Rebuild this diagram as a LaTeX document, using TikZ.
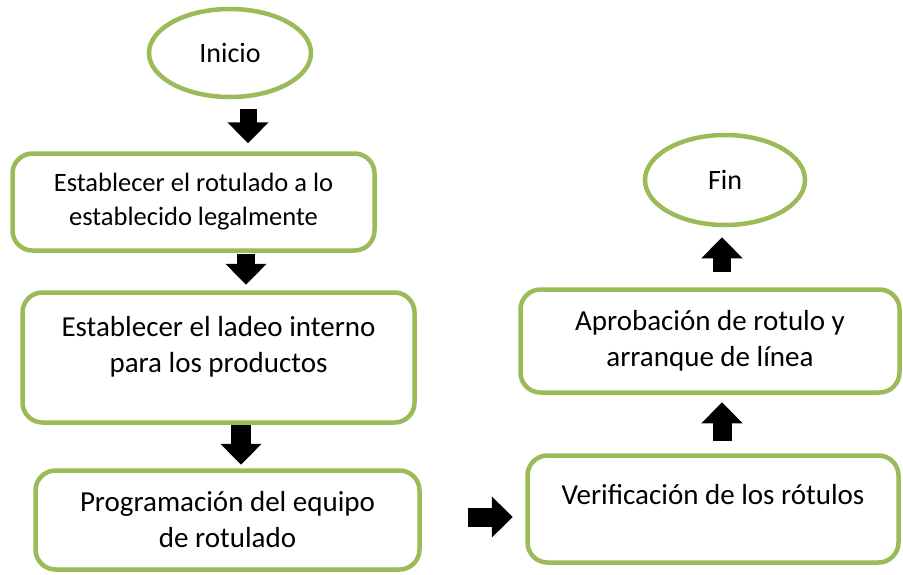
\documentclass[tikz,border=0pt]{standalone}
\usepackage{fontspec}
\setmainfont{Carlito}
\usetikzlibrary{arrows.meta,shapes.geometric}
\definecolor{olivegreen}{HTML}{9BBB59}

\begin{document}
\begin{tikzpicture}[x=1pt,y=-1pt,
		stepbox/.style={draw=olivegreen, line width=4.5pt, rounded corners=20pt, fill=white, align=center, inner sep=0pt, font=\fontsize{29}{36}\selectfont},
		terminal/.style={draw=olivegreen, line width=4.5pt, ellipse, fill=white, inner sep=0pt, font=\fontsize{28}{34}\selectfont},
		blockarrow/.style={line width=#1, -{Triangle[width=40pt 0 0, length=21pt 0 0]}},
		blockarrow/.default=18pt]
			%%%%% START %%%%%
			\useasboundingbox (0, 0) rectangle (903, 574);
			
			\node[terminal, minimum width=162pt, minimum height=88pt] (inicio) at (230, 53) {Inicio};
			\node[stepbox, minimum width=362pt, minimum height=97pt, font=\fontsize{26.5}{34}\selectfont] (rotulado) at (193.5, 202) {Establecer el rotulado a lo\\establecido legalmente};
			\node[stepbox, minimum width=392pt, minimum height=130pt, text depth=26pt] (ladeo) at (218.5, 357.5) {Establecer el ladeo interno\\para los productos};
			\node[stepbox, minimum width=384pt, minimum height=99pt] (programacion) at (227.5, 520) {Programación del equipo\\de rotulado};
			
			\node[stepbox, minimum width=371pt, minimum height=107pt, text depth=30pt] (verificacion) at (713, 509) {Verificación de los rótulos};
			\node[stepbox, minimum width=379pt, minimum height=103pt] (aprobacion) at (710, 341) {Aprobación de rotulo y\\arranque de línea};
			\node[terminal, minimum width=160pt, minimum height=90pt] (fin) at (725, 180) {Fin};
			
			\draw[blockarrow=17pt, shorten <=10pt, shorten >=8pt] (248,0 |- inicio.south) -- (248,0 |- rotulado.north);
			\draw[blockarrow, shorten <=1.5pt, shorten >=5.5pt] (246,0 |- rotulado.south) -- (246,0 |- ladeo.north);
			\draw[blockarrow=20pt, shorten <=0.5pt, shorten >=3.5pt] (241,0 |- ladeo.south) -- (241,0 |- programacion.north);
			\draw[blockarrow=19pt, shorten <=46.5pt, shorten >=12.5pt] (programacion.east |- 0,517) -- (verificacion.west |- 0,517);
			\draw[blockarrow=19pt, shorten <=12.5pt, shorten >=7.5pt] (722,0 |- verificacion.north) -- (722,0 |- aprobacion.south);
			\draw[blockarrow, shorten <=15.5pt, shorten >=10pt] (722,0 |- aprobacion.north) -- (722,0 |- fin.south);
			%%%%% END %%%%%
		\end{tikzpicture}
\end{document}
